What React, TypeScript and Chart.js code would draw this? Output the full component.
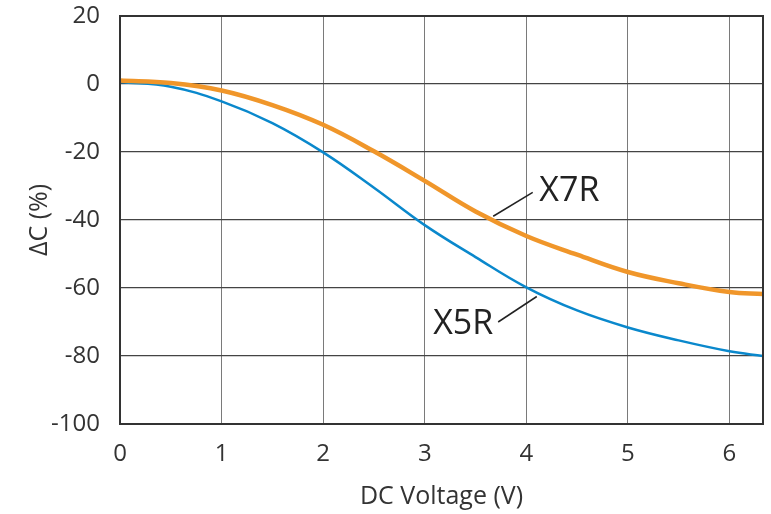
import React, { useEffect, useRef } from "react";
import { Chart, registerables } from "chart.js";

Chart.register(...registerables);

const voltage = [0, 0.5, 1, 1.5, 2, 2.5, 3, 3.5, 4, 4.5, 5, 5.5, 6, 6.33];
const x7r = [1, 0.3, -1.9, -6.2, -12, -19.8, -28.5, -37.5, -44.7, -50.2, -55.3, -58.6, -61.2, -61.8];
const x5r = [0.6, -0.8, -5.1, -11.5, -20.1, -30.5, -41.5, -50.9, -59.8, -66.6, -71.6, -75.4, -78.6, -80];

const seriesNames = ["X7R", "X5R"];
const annoLabels = ["X7R", "X5R"];
const annoLine = [
  [3.674, -38.9, 4.063, -31.9],
  [3.723, -70.0, 4.103, -62.5],
];
const annoText = [
  [4.128, -31.5],
  [3.674, -70.8],
];
const annoAlign: CanvasTextAlign[] = ["left", "right"];

const FONT = "'Open Sans', 'Noto Sans', sans-serif";

export default function App() {
  const ref = useRef<HTMLCanvasElement | null>(null);
  useEffect(() => {
    if (!ref.current) return;
    const framePlugin = {
      id: "frameAndNotes",
      afterDatasetsDraw(chart: any) {
        const { ctx, chartArea: a, scales } = chart;
        const xs = scales.x;
        const ys = scales.y;
        ctx.save();
        ctx.strokeStyle = "#333";
        ctx.lineWidth = 2;
        ctx.strokeRect(a.left, a.top, a.right - a.left, a.bottom - a.top);
        ctx.strokeStyle = "#222";
        ctx.lineWidth = 1.5;
        annoLine.forEach((l) => {
          ctx.beginPath();
          ctx.moveTo(xs.getPixelForValue(l[0]), ys.getPixelForValue(l[1]));
          ctx.lineTo(xs.getPixelForValue(l[2]), ys.getPixelForValue(l[3]));
          ctx.stroke();
        });
        ctx.fillStyle = "#222";
        ctx.font = `34px ${FONT}`;
        ctx.textBaseline = "middle";
        annoLabels.forEach((t, i) => {
          ctx.textAlign = annoAlign[i];
          ctx.fillText(t, xs.getPixelForValue(annoText[i][0]), ys.getPixelForValue(annoText[i][1]));
        });
        ctx.restore();
      },
    };
    const chart = new Chart(ref.current, {
      type: "line",
      data: {
        datasets: [
          {
            label: seriesNames[0],
            data: voltage.map((v, i) => ({ x: v, y: x7r[i] })),
            borderColor: "#f0962a",
            borderWidth: 4.5,
            pointRadius: 0,
            tension: 0.4,
          },
          {
            label: seriesNames[1],
            data: voltage.map((v, i) => ({ x: v, y: x5r[i] })),
            borderColor: "#0a88cc",
            borderWidth: 2.5,
            pointRadius: 0,
            tension: 0.4,
          },
        ],
      },
      options: {
        animation: false,
        responsive: false,
        layout: { padding: { top: 16, right: 8, left: 0, bottom: 0 } },
        plugins: { legend: { display: false }, tooltip: { enabled: false } },
        scales: {
          x: {
            type: "linear",
            min: 0,
            max: 6.33,
            afterFit: (s: any) => {
              s.height = 90;
              s.paddingLeft = 0;
              s.paddingRight = 0;
            },
            border: { display: false },
            grid: { color: "#7a7a7a", lineWidth: 1, drawTicks: false },
            ticks: {
              stepSize: 1,
              includeBounds: false,
              padding: 16,
              color: "#333",
              font: { family: FONT, size: 24 },
              maxRotation: 0,
            },
            title: {
              display: true,
              text: "DC Voltage (V)",
              color: "#333",
              font: { family: FONT, size: 25 },
              padding: { top: 0, bottom: 2 },
            },
          },
          y: {
            type: "linear",
            min: -100,
            max: 20,
            afterFit: (s: any) => {
              s.width = 120;
              s.paddingTop = 0;
              s.paddingBottom = 0;
            },
            border: { display: false },
            grid: { color: "#444", lineWidth: 1.2, drawTicks: false },
            ticks: {
              stepSize: 20,
              padding: 20,
              color: "#333",
              font: { family: FONT, size: 24 },
            },
            title: {
              display: true,
              text: "ΔC (%)",
              color: "#333",
              font: { family: FONT, size: 25 },
              padding: { top: 25, bottom: 0 },
            },
          },
        },
      },
      plugins: [framePlugin],
    } as any);
    return () => chart.destroy();
  }, []);
  return (
    <div style={{ position: "fixed", left: 0, top: 0, width: 771, height: 514, background: "#fff" }}>
      <canvas ref={ref} width={771} height={514} style={{ display: "block" }} />
    </div>
  );
}
